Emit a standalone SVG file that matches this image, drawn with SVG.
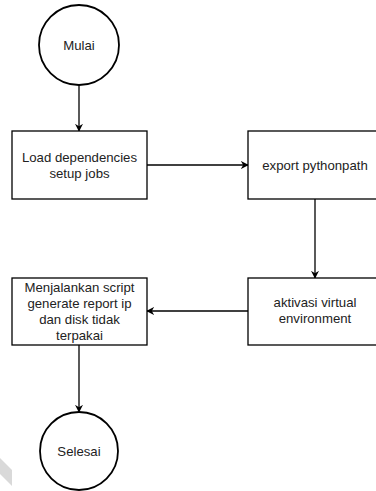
<svg xmlns="http://www.w3.org/2000/svg" width="376" height="491" viewBox="0 0 376 491">
  <defs>
    <marker id="arrow" viewBox="0 0 10 10" refX="9" refY="5" markerWidth="8" markerHeight="8" markerUnits="userSpaceOnUse" orient="auto">
      <path d="M0,0 L10,5 L0,10 L3,5 Z" fill="#000"/>
    </marker>
    <style>
      .box { fill: #fff; stroke: #000; stroke-width: 1.3; }
      .term { fill: #fff; stroke: #000; stroke-width: 1.8; }
      .lbl { font-family: "Liberation Sans", Arial, sans-serif; font-size: 13.2px; fill: #222; text-anchor: middle; }
      .edge { fill: none; stroke: #000; stroke-width: 1.3; marker-end: url(#arrow); }
    </style>
  </defs>
  <rect width="376" height="491" fill="#fff"/>

  <!-- faint stripe in the lower-left corner -->
  <polygon points="0,458 12,470 12,486 0,474" fill="#d9d9d9"/>

  <g id="connectors">
    <line class="edge" x1="79" y1="85" x2="79" y2="131"/>
    <line class="edge" x1="147" y1="165" x2="248" y2="165"/>
    <line class="edge" x1="315" y1="199" x2="315" y2="278"/>
    <line class="edge" x1="248" y1="311" x2="147" y2="311"/>
    <line class="edge" x1="79" y1="345" x2="79" y2="412"/>
  </g>

  <g id="mulai">
    <circle class="term" cx="79" cy="45" r="40"/>
    <text class="lbl" x="79" y="50">Mulai</text>
  </g>

  <g id="load-dependencies">
    <rect class="box" x="12" y="131" width="135" height="68"/>
    <text class="lbl" x="79.5" y="161.5">Load dependencies</text>
    <text class="lbl" x="79.5" y="177.5">setup jobs</text>
  </g>

  <g id="export-pythonpath">
    <rect class="box" x="248" y="131" width="135" height="68"/>
    <text class="lbl" x="315" y="169.5">export pythonpath</text>
  </g>

  <g id="aktivasi-venv">
    <rect class="box" x="248" y="278" width="135" height="67"/>
    <text class="lbl" x="315" y="307">aktivasi virtual</text>
    <text class="lbl" x="315" y="323">environment</text>
  </g>

  <g id="menjalankan-script">
    <rect class="box" x="12" y="278" width="135" height="67"/>
    <text class="lbl" x="79.5" y="292">Menjalankan script</text>
    <text class="lbl" x="79.5" y="308">generate report ip</text>
    <text class="lbl" x="79.5" y="324">dan disk tidak</text>
    <text class="lbl" x="79.5" y="340">terpakai</text>
  </g>

  <g id="selesai">
    <circle class="term" cx="79" cy="451" r="39"/>
    <text class="lbl" x="79" y="456">Selesai</text>
  </g>
</svg>
